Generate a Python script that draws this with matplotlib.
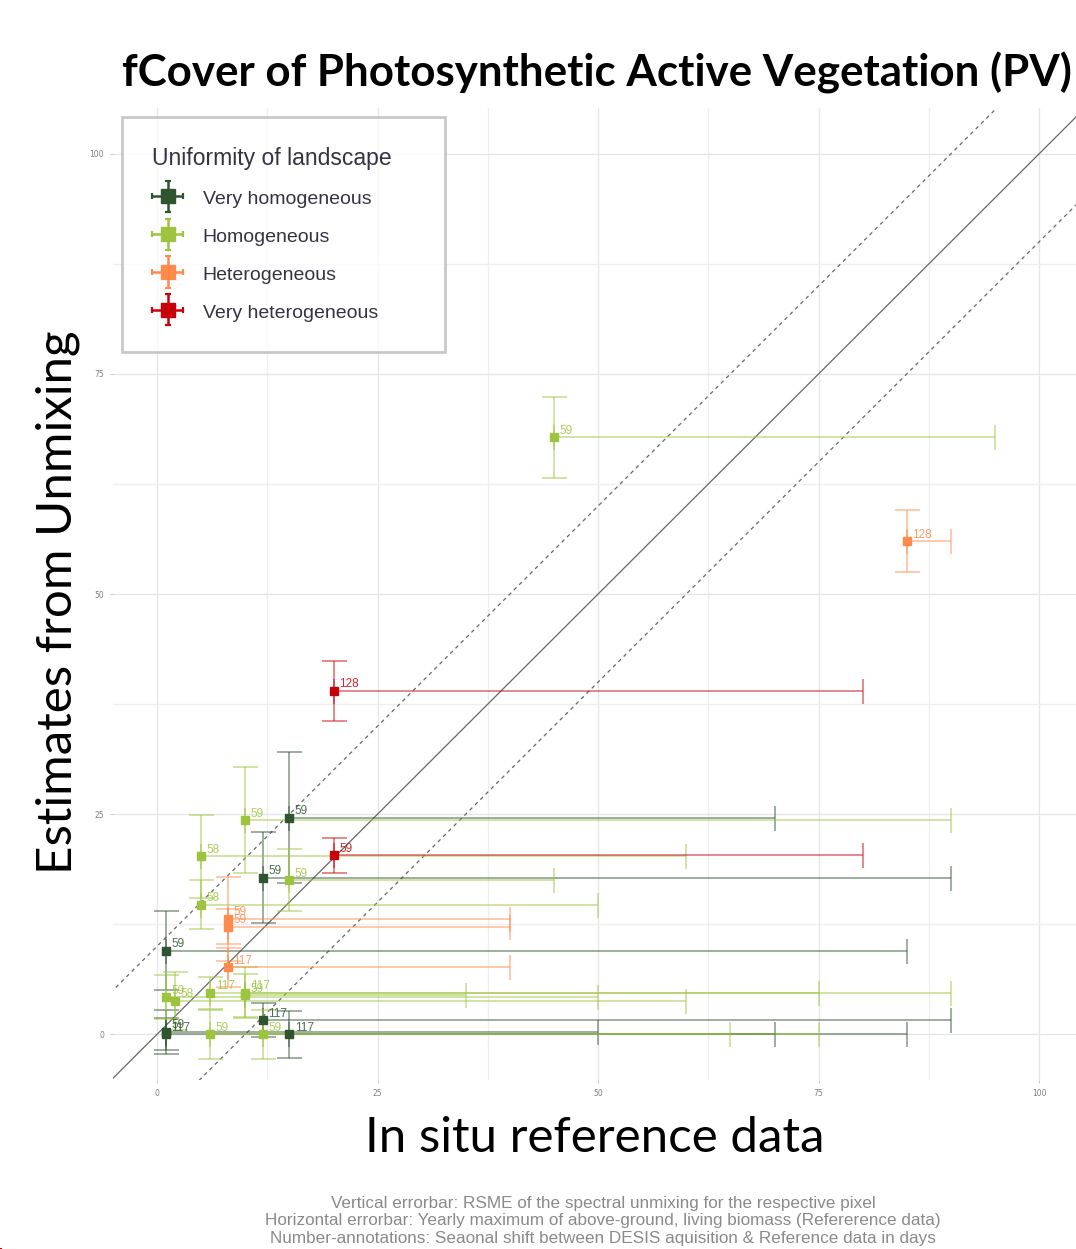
import matplotlib
matplotlib.use("Agg")
import matplotlib.pyplot as plt
from matplotlib.colors import to_rgba
from matplotlib.ticker import MultipleLocator
from matplotlib.legend_handler import HandlerErrorbar
from matplotlib.container import ErrorbarContainer

# ---------------- data ----------------
groups = ["Very homogeneous", "Homogeneous", "Heterogeneous", "Very heterogeneous"]
colors = ["#2E5430", "#9DC43F", "#FF8A4C", "#C8000A"]

vh_x = [15, 12, 1, 12, 15, 1, 1]
vh_y = [24.6, 17.8, 9.5, 1.6, 0.0, 0.3, 0.0]
vh_yerr = [7.4, 5.2, 4.5, 1.9, 2.65, 2.5, 1.8]
vh_xmax = [70, 90, 85, 90, 85, 50, 70]
vh_lab = ["59", "59", "59", "117", "117", "59", "117"]

ho_x = [45, 10, 15, 5, 5, 1, 2, 6, 10, 10, 6, 12]
ho_y = [67.8, 24.3, 17.5, 20.2, 14.7, 4.2, 3.8, 4.7, 4.7, 4.4, 0.0, 0.0]
ho_yerr = [4.6, 6.0, 3.5, 4.7, 2.8, 2.5, 3.3, 1.85, 2.9, 2.4, 2.8, 2.8]
ho_xmax = [95, 90, 45, 60, 50, 50, 60, 75, 90, 35, 65, 75]
ho_lab = ["59", "59", "59", "58", "58", "59", "58", "117", "117", "59", "59", "59"]

he_x = [85, 8, 8, 8]
he_y = [56.0, 13.1, 12.2, 7.6]
he_yerr = [3.5, 4.8, 2.0, 2.2]
he_xmax = [90, 40, 40, 40]
he_lab = ["128", "59", "59", "117"]

vhe_x = [20, 20]
vhe_y = [39.0, 20.3]
vhe_yerr = [3.4, 2.0]
vhe_xmax = [80, 80]
vhe_lab = ["128", "59"]

data = [
    (vh_x, vh_y, vh_yerr, vh_xmax, vh_lab),
    (ho_x, ho_y, ho_yerr, ho_xmax, ho_lab),
    (he_x, he_y, he_yerr, he_xmax, he_lab),
    (vhe_x, vhe_y, vhe_yerr, vhe_xmax, vhe_lab),
]

ticks = [0, 25, 50, 75, 100]
diag_offsets = [-10, 10]

title = "fCover of Photosynthetic Active Vegetation (PV)"
xlabel = "In situ reference data"
ylabel = "Estimates from Unmixing"
legend_title = "Uniformity of landscape"
caption = [
    "Vertical errorbar: RSME of the spectral unmixing for the respective pixel",
    "Horizontal errorbar: Yearly maximum of above-ground, living biomass (Refererence data)",
    "Number-annotations: Seaonal shift between DESIS aquisition & Reference data in days",
]

# ---------------- figure ----------------
W, H = 1076, 1249
fig = plt.figure(figsize=(W / 100, H / 100), dpi=100)

def px_axes(l, t, r, b):
    return [l / W, 1 - b / H, (r - l) / W, (b - t) / H]

ax = fig.add_axes(px_axes(113, 108, 1085, 1080))
ax.set_xlim(-5.0, 105.2)
ax.set_ylim(-5.2, 105.2)
ax.set_facecolor("white")
for s in ax.spines.values():
    s.set_visible(False)

ax.xaxis.set_minor_locator(MultipleLocator(12.5))
ax.yaxis.set_minor_locator(MultipleLocator(12.5))
ax.set_xticks(ticks)
ax.set_yticks(ticks)
ax.set_xticklabels([str(t) for t in ticks])
ax.set_yticklabels([str(t) for t in ticks])
ax.grid(which="major", color="#E6E6E6", linewidth=1.0)
ax.grid(which="minor", color="#EEEEEE", linewidth=0.9)
ax.set_axisbelow(True)
ax.tick_params(which="major", length=2.5, width=0.6, color="#BBBBBB",
               labelsize=5.5, labelcolor="#7F7F7F", pad=4)
ax.tick_params(which="minor", length=0)

# identity and +/-10 lines
lim = [-20, 120]
ax.plot(lim, lim, color="#666666", linewidth=0.9, zorder=2)
for off in diag_offsets:
    ax.plot(lim, [v + off for v in lim], color="#666666", linewidth=0.9,
            linestyle=(0, (3, 3)), zorder=2)

for (xs, ys, yerr, xmax, labs), col, name in zip(data, colors, groups):
    xerr = [[0] * len(xs), [m - x for m, x in zip(xmax, xs)]]
    ecol = to_rgba(col, 0.55)
    ax.errorbar(xs, ys, yerr=yerr, xerr=xerr, fmt="s", color=col,
                markersize=5.5, mec=col, ecolor=ecol,
                elinewidth=1.2, capsize=9, capthick=1.2, zorder=3)
    for x, y, lab in zip(xs, ys, labs):
        ax.annotate(lab, (x, y), xytext=(4, 2.5), textcoords="offset points",
                    ha="left", va="baseline", fontsize=8.5,
                    color=to_rgba(col, 0.85), family="Liberation Sans", zorder=4)

# legend proxies (errorbar keys)
proxy_ax = fig.add_axes([0, 0, 0.001, 0.001])
proxy_ax.set_axis_off()
handles = []
for col in colors:
    h = proxy_ax.errorbar([0], [0], yerr=[1], xerr=[1], fmt="s", color=col,
                          markersize=10, mec=col, ecolor=col,
                          elinewidth=1.8, capsize=2.5, capthick=1.6)
    handles.append(h)

leg = ax.legend(handles=handles, labels=groups,
                title=legend_title + "\u2002\u2002",
                loc="upper left", bbox_to_anchor=(0.0093, 0.9907),
                borderaxespad=0, fancybox=False, frameon=True,
                prop={"family": "Liberation Sans", "size": 14},
                title_fontproperties={"family": "Liberation Sans", "size": 16.5},
                labelspacing=0.95, handlelength=1.6, handleheight=1.0,
                handletextpad=1.0, borderpad=1.55, alignment="left",
                handler_map={ErrorbarContainer: HandlerErrorbar(xerr_size=0.8)})
leg.get_frame().set_edgecolor("#BBBBBB")
leg.get_frame().set_linewidth(2.0)
leg.get_title().set_color("#333344")
for t in leg.get_texts():
    t.set_color("#333344")

fig.text(122 / W, 1 - 86 / H, title, ha="left", va="baseline",
         fontsize=31.6, fontweight="bold", family="Lato", color="black")
fig.text(595 / W, 1 - 1152 / H, xlabel, ha="center", va="baseline",
         fontsize=35.5, family="Lato", color="black")
fig.text(58 / W, 1 - 602 / H, ylabel, ha="center", va="center",
         rotation=90, fontsize=35.5, family="Lato", color="black")

for i, line in enumerate(caption):
    fig.text(603 / W, 1 - (1203.5 + 17.5 * i) / H, line, ha="center", va="center",
             fontsize=12.3, family="Liberation Sans", color="#8A8A8A")

fig.savefig("out.png", dpi=100)
